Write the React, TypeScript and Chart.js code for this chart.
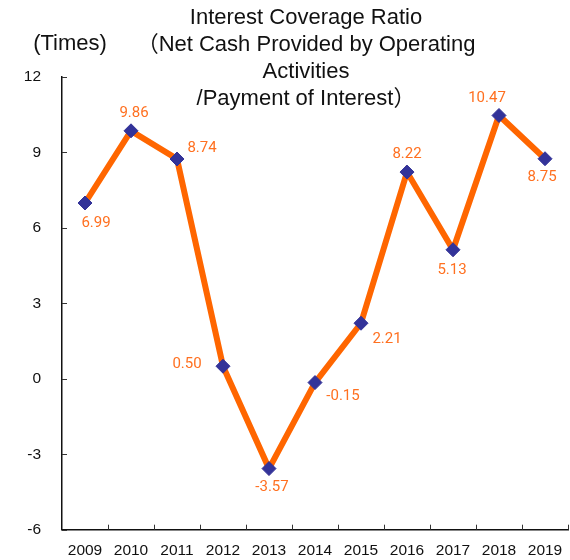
import React, { useEffect, useRef } from "react";
import { Chart, registerables } from "chart.js";

Chart.register(...registerables);

const years = ["2009", "2010", "2011", "2012", "2013", "2014", "2015", "2016", "2017", "2018", "2019"];
const ratios = [6.99, 9.86, 8.74, 0.5, -3.57, -0.15, 2.21, 8.22, 5.13, 10.47, 8.75];
const ratioLabels = ["6.99", "9.86", "8.74", "0.50", "-3.57", "-0.15", "2.21", "8.22", "5.13", "10.47", "8.75"];
const labelOffsets: [number, number][] = [
  [11, 20], [3, -18], [25, -11], [-36, -2], [3, 19], [28, 14],
  [26, 16], [0, -18], [-1, 20], [-12, -17], [-3, 19],
];
const titleLines = [
  "Interest Coverage Ratio",
  "（Net Cash Provided by Operating",
  "Activities",
  "/Payment of Interest）",
];
const unitLabel = "(Times)";

const ORANGE = "#FF6600";
const LABEL_ORANGE = "#FF7020";
const NAVY = "#333399";
const SANS = '"Liberation Sans", Arial, "Noto Sans CJK JP", sans-serif';

export default function App() {
  const ref = useRef<HTMLCanvasElement | null>(null);

  useEffect(() => {
    document.body.style.margin = "0";
    const canvas = ref.current;
    if (!canvas) return;

    const decor = {
      id: "decor",
      afterDraw(chart: any) {
        const ctx = chart.ctx;
        const area = chart.chartArea;
        const x = chart.scales.x;
        const y = chart.scales.y;
        ctx.save();
        ctx.fillStyle = "#111";
        ctx.font = `22px ${SANS}`;
        ctx.textAlign = "center";
        ctx.textBaseline = "middle";
        const cx = (area.left + area.right) / 2 - 9;
        titleLines.forEach((t, i) => ctx.fillText(t, cx, 18 + i * 27));
        ctx.fillText(unitLabel, 70, 44);
        ctx.strokeStyle = "#333";
        ctx.lineWidth = 1;
        ctx.beginPath();
        y.ticks.forEach((tk: any) => {
          const py = Math.round(y.getPixelForValue(tk.value)) + 0.5;
          ctx.moveTo(area.left, py);
          ctx.lineTo(area.left + 5, py);
        });
        for (let i = 1; i <= years.length; i++) {
          const px = Math.round(x.getPixelForValue(i - 0.5)) + 0.5;
          ctx.moveTo(px, area.bottom);
          ctx.lineTo(px, area.bottom - 5);
        }
        ctx.stroke();
        ctx.restore();
      },
      afterDatasetsDraw(chart: any) {
        const ctx = chart.ctx;
        const meta = chart.getDatasetMeta(0);
        ctx.save();
        ctx.fillStyle = LABEL_ORANGE;
        ctx.font = `15px Roboto, ${SANS}`;
        ctx.textAlign = "center";
        ctx.textBaseline = "middle";
        meta.data.forEach((pt: any, i: number) => {
          const [dx, dy] = labelOffsets[i];
          ctx.fillText(ratioLabels[i], pt.x + dx, pt.y + dy);
        });
        ctx.restore();
      },
    };

    const chart = new Chart(canvas, {
      type: "line",
      data: {
        labels: years,
        datasets: [
          {
            data: ratios,
            borderColor: ORANGE,
            borderWidth: 6,
            pointStyle: "rectRot",
            pointRadius: 7,
            pointBackgroundColor: NAVY,
            pointBorderColor: NAVY,
            pointBorderWidth: 1,
            tension: 0,
            clip: false as any,
          },
        ],
      },
      options: {
        responsive: false,
        animation: false,
        layout: { autoPadding: false, padding: { top: 77, right: 2, left: 0, bottom: 0 } },
        plugins: {
          legend: { display: false },
          title: { display: false },
          tooltip: { enabled: false },
        },
        scales: {
          x: {
            type: "category",
            offset: true,
            grid: { display: false, drawTicks: false, offset: true },
            border: { display: true, color: "#111", width: 1.5 },
            ticks: {
              color: "#111",
              font: { family: SANS, size: 15.5 },
              padding: 12,
              maxRotation: 0,
              autoSkip: false,
            },
            afterFit(scale: any) {
              scale.height = 30;
              scale.paddingLeft = 0;
              scale.paddingRight = 0;
            },
          },
          y: {
            min: -6,
            max: 12,
            grid: { display: false, drawTicks: false },
            border: { display: true, color: "#111", width: 1.5 },
            ticks: {
              stepSize: 3,
              color: "#111",
              font: { family: SANS, size: 15.5 },
              padding: 21,
            },
            afterFit(scale: any) {
              scale.width = 62;
            },
          },
        },
      },
      plugins: [decor],
    });

    return () => chart.destroy();
  }, []);

  return (
    <div style={{ width: 570, height: 560 }}>
      <canvas ref={ref} width={570} height={560} style={{ display: "block" }} />
    </div>
  );
}
